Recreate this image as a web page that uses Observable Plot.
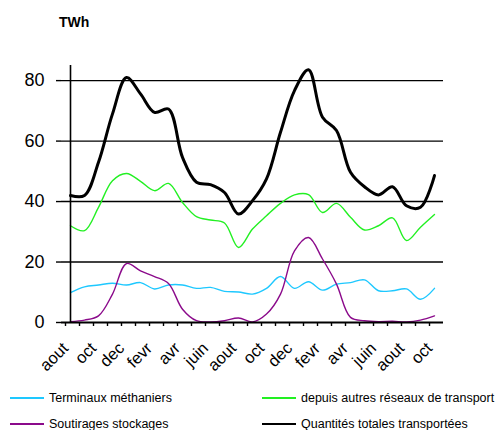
<!DOCTYPE html>
<html>
<head>
<meta charset="utf-8">
<script src="https://cdn.jsdelivr.net/npm/d3@7"></script>
<script src="https://cdn.jsdelivr.net/npm/@observablehq/plot@0.6"></script>
<style>
  body { margin: 0; background: #fff; font-family: "Liberation Sans", Arial, sans-serif; }
  #wrap { position: relative; width: 499px; height: 430px; overflow: hidden; }
  #title { position: absolute; left: 59px; top: 14px; font-size: 14px; font-weight: bold; }
  .leg { position: absolute; font-size: 12.5px; white-space: nowrap; }
  .leg span.sw { position: absolute; left: 0; width: 34px; height: 0; border-top: 2px solid; }
  .leg span.tx { position: absolute; left: 39px; top: 0; }
</style>
</head>
<body>
<div id="wrap">
  <div id="chart"></div>
  <div id="title">TWh</div>
  <div id="legend"></div>
</div>
<script>
const months = ["2010-08","2010-09","2010-10","2010-11","2010-12","2011-01","2011-02","2011-03","2011-04","2011-05","2011-06","2011-07",
  "2011-08","2011-09","2011-10","2011-11","2011-12","2012-01","2012-02","2012-03","2012-04","2012-05","2012-06","2012-07","2012-08","2012-09","2012-10"];
const frMonths = ["janv","fevr","mars","avr","mai","juin","juil","aout","sept","oct","nov","dec"];

const terminaux = [9.9,11.8,12.4,13.0,12.4,13.2,11.1,12.4,12.4,11.3,11.6,10.3,10.1,9.4,11.3,15.2,11.3,13.5,10.7,12.7,13.2,14.1,10.5,10.5,11.1,7.7,11.3];
const autres    = [32.0,30.4,38.1,46.9,49.3,46.7,43.6,46.0,39.7,35.0,33.9,32.9,24.8,30.9,35.3,39.4,42.2,42.3,36.4,39.4,34.8,30.6,32.0,34.6,27.1,31.5,35.7];
const soutirages= [0.3,0.8,2.2,9.4,19.5,17.1,15.2,12.9,4.4,0.6,0.2,0.6,1.5,0.2,2.8,9.4,23.7,28.1,21.0,12.7,1.7,0.6,0.3,0.4,0.2,0.8,2.2];
const total     = [42.0,42.0,53.0,69.0,81.0,75.6,69.5,70.6,54.6,46.4,45.6,43.0,35.9,40.3,47.5,62.9,76.7,83.6,67.9,63.5,49.7,44.9,42.2,44.9,38.6,38.1,48.6];

const seriesNames = ["Terminaux méthaniers","depuis autres réseaux de transport","Soutirages stockages","Quantités totales transportées"];
const seriesColors = ["#1ec8ff","#22f022","#8b0a8b","#000000"];
const seriesValues = [terminaux, autres, soutirages, total];

const rows = [];
seriesValues.forEach((vals, s) => vals.forEach((v, i) => rows.push({serie: seriesNames[s], month: months[i], value: v})));

const fontFam = "'Liberation Sans', Arial, sans-serif";
const chart = Plot.plot({
  width: 499,
  height: 380,
  marginTop: 65,
  marginBottom: 58,
  marginLeft: 61,
  marginRight: 56,
  style: {fontFamily: fontFam, background: "#fff", overflow: "visible"},
  x: {type: "point", domain: months, padding: 0},
  y: {domain: [0, 85]},
  color: {domain: seriesNames, range: seriesColors},
  marks: [
    Plot.ruleY([20, 40, 60, 80], {stroke: "#000", strokeWidth: 1.4}),
    Plot.axisY({ticks: [0, 20, 40, 60, 80], label: null, tickSize: 5, tickPadding: 12, fontSize: 18, tickFormat: d3.format("d"), stroke: "#000", strokeWidth: 1.4}),
    Plot.axisX({label: null, tickSize: 4, tickPadding: 19, dx: -5, tickRotate: -45, fontSize: 16.5, strokeWidth: 1.4,
      tickFormat: m => { const k = +m.slice(5) - 1; return k % 2 === 1 ? frMonths[k] : ""; }}),
    Plot.line(rows.filter(d => d.serie !== seriesNames[3]), {x: "month", y: "value", z: "serie", stroke: "serie", strokeWidth: 1.4, curve: "catmull-rom"}),
    Plot.line(rows.filter(d => d.serie === seriesNames[3]), {x: "month", y: "value", stroke: "serie", strokeWidth: 3, curve: "catmull-rom"}),
    Plot.ruleX([months[0]], {y1: 0, y2: 85, stroke: "#000", strokeWidth: 1.6}),
    Plot.ruleY([0], {stroke: "#000", strokeWidth: 2})
  ]
});
document.getElementById("chart").appendChild(chart);

const legendPos = [[10, 391], [262, 391], [10, 417], [262, 417]];
const legendOrder = [0, 1, 2, 3];
const legend = document.getElementById("legend");
legendOrder.forEach((s, j) => {
  const d = document.createElement("div");
  d.className = "leg";
  d.style.left = legendPos[j][0] + "px";
  d.style.top = legendPos[j][1] + "px";
  d.innerHTML = `<span class="sw" style="border-color:${seriesColors[s]};top:6px"></span><span class="tx">${seriesNames[s]}</span>`;
  legend.appendChild(d);
});
</script>
</body>
</html>
